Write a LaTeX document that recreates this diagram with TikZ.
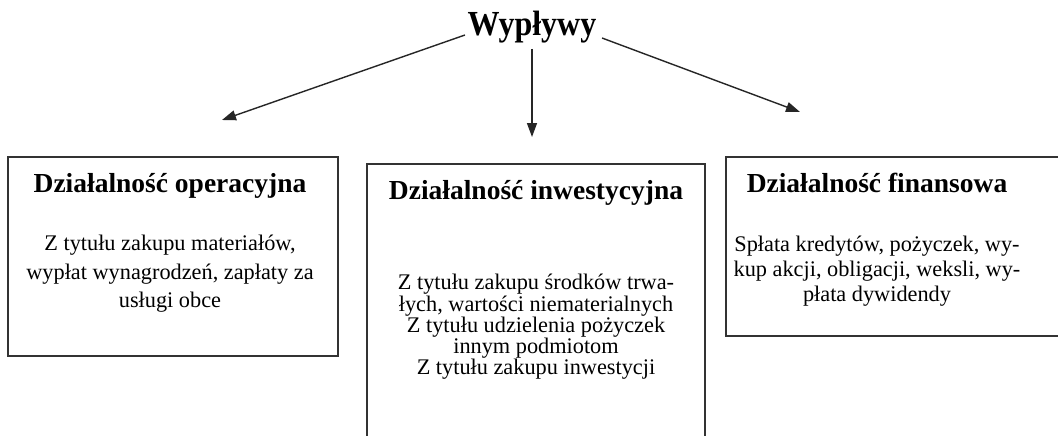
\documentclass[tikz,border=0pt]{standalone}
\usepackage{fontspec}
\setmainfont{Liberation Serif}
\usetikzlibrary{arrows.meta}
\begin{document}
\begin{tikzpicture}[x=1pt,y=-1pt,
  arr/.style={draw=black!85, line width=1.4pt, -{Triangle[length=14pt,width=10pt]}},
  boxline/.style={draw=black!80, line width=1.4pt},
  head/.style={font=\bfseries\fontsize{27.5}{31}\selectfont, inner sep=0pt, anchor=base},
  body/.style={font=\fontsize{22.3}{#1}\selectfont, align=center, inner sep=0pt, anchor=north}
]
\useasboundingbox (0,0) rectangle (1058,436);
\fill[white] (0,0) rectangle (1058,436);

% title
\node[font=\bfseries\fontsize{32}{36}\selectfont, inner sep=0pt, anchor=base] (title) at (532,36) {\scalebox{1}[1.1]{Wypływy}};

% arrow coordinates
\coordinate (s1) at (465,35);
\coordinate (s2) at (532,49);
\coordinate (s3) at (602,38);
\coordinate (t1) at (222,120);
\coordinate (t2) at (532,137);
\coordinate (t3) at (800,112);
\draw[arr] (s1) -- (t1);
\draw[arr] (s2) -- (t2);
\draw[arr] (s3) -- (t3);

% boxes
\draw[boxline] (8,157) rectangle (338,356);
\draw[boxline] (367,436) -- (367,164) -- (705,164) -- (705,436);
\draw[boxline] (1058,157) -- (726,157) -- (726,336) -- (1058,336);

% box 1
\node[head] (h1) at (170,192) {Działalność operacyjna};
\node[body=28.5] (b1) at (170,235) {Z tytułu zakupu materiałów,\\ wypłat wynagrodzeń, zapłaty za\\ usługi obce};

% box 2
\node[head] (h2) at (536,199) {Działalność inwestycyjna};
\node[body=21.3] (b2) at (536,274) {Z tytułu zakupu środków trwa-\\ łych, wartości niematerialnych\\ Z tytułu udzielenia pożyczek\\ innym podmiotom\\ Z tytułu zakupu inwestycji};

% box 3
\node[head] (h3) at (877,192) {Działalność finansowa};
\node[body=25] (b3) at (877,236) {Spłata kredytów, pożyczek, wy-\\ kup akcji, obligacji, weksli, wy-\\ płata dywidendy};
\end{tikzpicture}
\end{document}
